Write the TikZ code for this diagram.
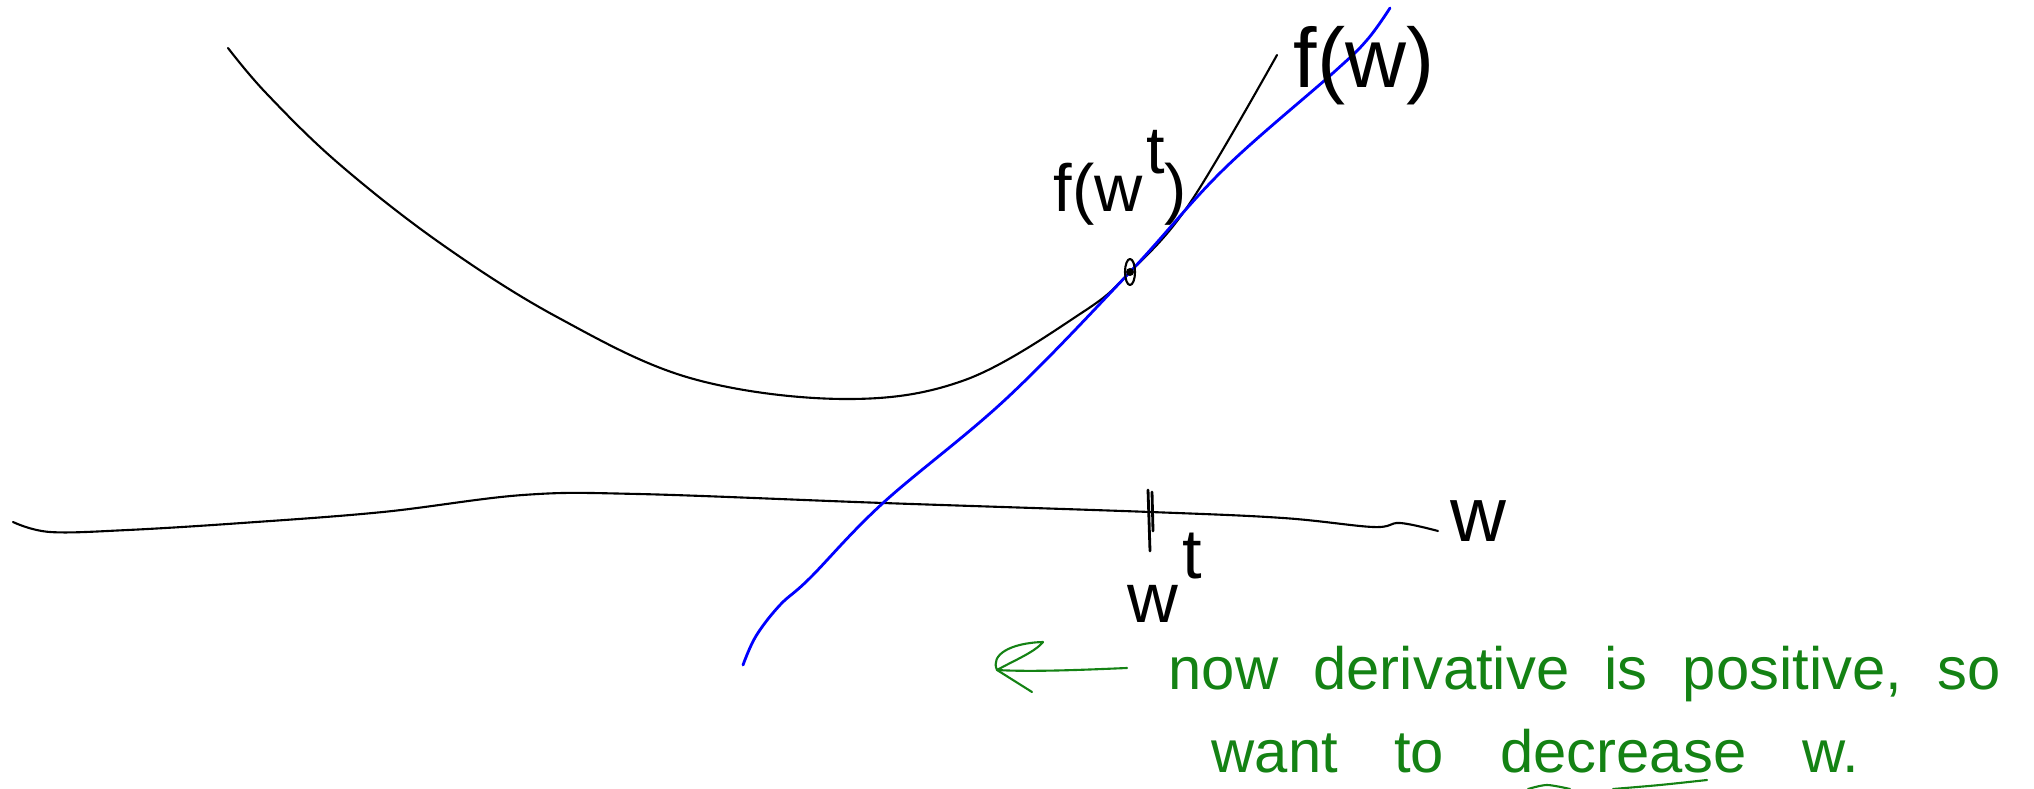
\documentclass[tikz,border=0pt]{standalone}
\usepackage{fontspec}
\setmainfont{Liberation Sans}
\usetikzlibrary{arrows.meta,positioning}
\definecolor{penGreen}{RGB}{20,130,20}

\begin{document}
\begin{tikzpicture}[x=0.01cm,y=-0.01cm,line cap=round,line join=round,
  pen/.style={line width=0.6pt},
  hand/.style={inner sep=0pt,anchor=base west,font=\fontsize{19}{23}\selectfont},
  note/.style={hand,penGreen,font=\fontsize{17}{21}\selectfont}]
\useasboundingbox (0,0) rectangle (2034,789);
% f(w) and the w axis
\draw[pen] plot[smooth,tension=0.6] coordinates {(228,48) (266,93) (338,163) (440,243) (557,317) (690,378) (843,399) (965,380) (1083,312) (1130,272) (1190,203) (1277,55)};
\draw[pen] plot[smooth,tension=0.6] coordinates {(13,522) (50,532) (128,530) (242,523) (383,512) (523,495) (638,494) (883,503) (1150,512) (1283,518) (1373,527) (1400,523) (1438,531)};
% tangent at w^t
\draw[blue,line width=0.8pt] plot[smooth,tension=0.6] coordinates {(743,665) (756,636) (780,605) (810,578) (883,503) (1007,398) (1130,272) (1223,170) (1333,73) (1367,40) (1390,8)};
\fill (1130,272) circle (0.04cm);
\draw[pen] (1130,272) ellipse (0.05cm and 0.13cm);
\draw[line width=0.8pt] (1148,490) -- (1150,551);
\draw[line width=0.8pt] (1152,492) -- (1153,531);
\node[hand] (fwt) at (1053,212) {f(w\kern1pt\raisebox{1.1ex}{t})};
\node[hand,font=\fontsize{24}{28}\selectfont] (fw) at (1293,88) {f(w)};
\node[hand,font=\fontsize{22}{26}\selectfont] (axisw) at (1450,542) {w};
\node[hand,font=\fontsize{20}{24}\selectfont] (wt) at (1127,623) {w\kern1pt\raisebox{1.2ex}{t}};
% the note
\coordinate (arrowtail) at (1127,668);
\coordinate (arrowtip) at (997,670);
\draw[penGreen,pen] (arrowtail) .. controls (1080,670) and (1030,672) .. (arrowtip);
\draw[penGreen,pen] (arrowtip) .. controls (990,655) and (1010,643) .. (1043,642) .. controls (1035,652) and (1015,660) .. (arrowtip) -- (1032,692);
\node[note] (note1) at (1168,690) {\spaceskip=10pt now derivative is positive, so};
\node[note] (note2) at (1211,773) {\spaceskip=16pt want to decrease w.};
\draw[penGreen,pen] plot[smooth] coordinates {(1528,789) (1547,785) (1570,789)};
\draw[penGreen,pen] plot[smooth] coordinates {(1613,789) (1660,785) (1707,780)};
\end{tikzpicture}
\end{document}
